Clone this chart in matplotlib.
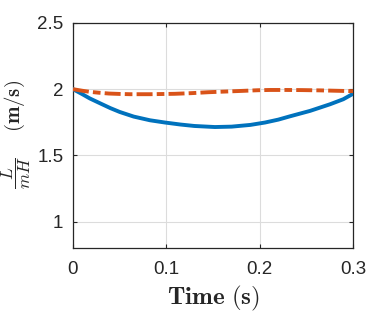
import matplotlib.pyplot as plt
import numpy as np

plt.rcParams['mathtext.fontset'] = 'cm'
plt.rcParams['font.family'] = ['Liberation Sans', 'DejaVu Sans']
plt.rcParams['lines.scale_dashes'] = False

# valores
t_azul = [0.0, 0.01, 0.018, 0.03, 0.04, 0.05, 0.065, 0.0825, 0.0986, 0.115, 0.13, 0.152,
          0.17, 0.19, 0.2057, 0.22, 0.2325, 0.254, 0.2754, 0.2896, 0.3]
v_azul = [2.0, 1.962, 1.93, 1.89, 1.857, 1.828, 1.793, 1.765, 1.748, 1.733, 1.722, 1.714,
          1.717, 1.73, 1.748, 1.77, 1.795, 1.836, 1.886, 1.924, 1.965]
t_naranja = [0.0, 0.01, 0.018, 0.028, 0.0386, 0.05, 0.0611, 0.0825, 0.109, 0.127, 0.145,
             0.163, 0.181, 0.198, 0.211, 0.228, 0.246, 0.264, 0.282, 0.3]
v_naranja = [2.0, 1.988, 1.98, 1.973, 1.967, 1.964, 1.962, 1.962, 1.965, 1.97, 1.977,
             1.982, 1.987, 1.992, 1.994, 1.994, 1.993, 1.991, 1.988, 1.985]

xticks = [0, 0.1, 0.2, 0.3]
yticks = [1, 1.5, 2, 2.5]

fig = plt.figure(figsize=(3.91, 3.12), dpi=100)
ax = fig.add_axes([0.1867, 0.2051, 0.9028 - 0.1867, 0.9263 - 0.2051])

ax.plot(t_azul, v_azul, color='#0072BD', linewidth=2.8, zorder=3)
ax.plot(t_naranja, v_naranja, color='#D95319', linewidth=2.8,
        linestyle=(0, (11.5, 3.0, 5.5, 3.0)), dash_capstyle='butt', zorder=3)

ax.set_xlim(0, 0.3)
ax.set_ylim(0.8, 2.5)
ax.set_xticks(xticks)
ax.set_xticklabels(['0', '0.1', '0.2', '0.3'])
ax.set_yticks(yticks)
ax.set_yticklabels(['1', '1.5', '2', '2.5'])
ax.tick_params(direction='in', top=True, right=True, labelsize=13.5, length=3, width=0.8,
               colors='#262626')
ax.tick_params(axis='y', pad=7)
ax.tick_params(axis='x', pad=9)
ax.grid(True, color='#dcdcdc', linewidth=0.8, zorder=0)
for s in ax.spines.values():
    s.set_color('#262626')
    s.set_linewidth(0.9)

ax.set_xlabel(r'$\mathbf{Time}\ \mathbf{(s)}$', fontsize=18, color='#262626')
ax.xaxis.set_label_coords(0.5, -0.16)

# etiqueta del eje y en dos partes (fraccion + unidades)
fig.text(0.041, 0.445, r'$\dfrac{L}{mH}$', fontsize=12.5, rotation=90,
         ha='center', va='center', color='#262626')
fig.text(0.038, 0.659, r'$\mathbf{(m/s)}$', fontsize=15, rotation=90,
         ha='center', va='center', color='#262626')

fig.savefig('out.png', dpi=100)
